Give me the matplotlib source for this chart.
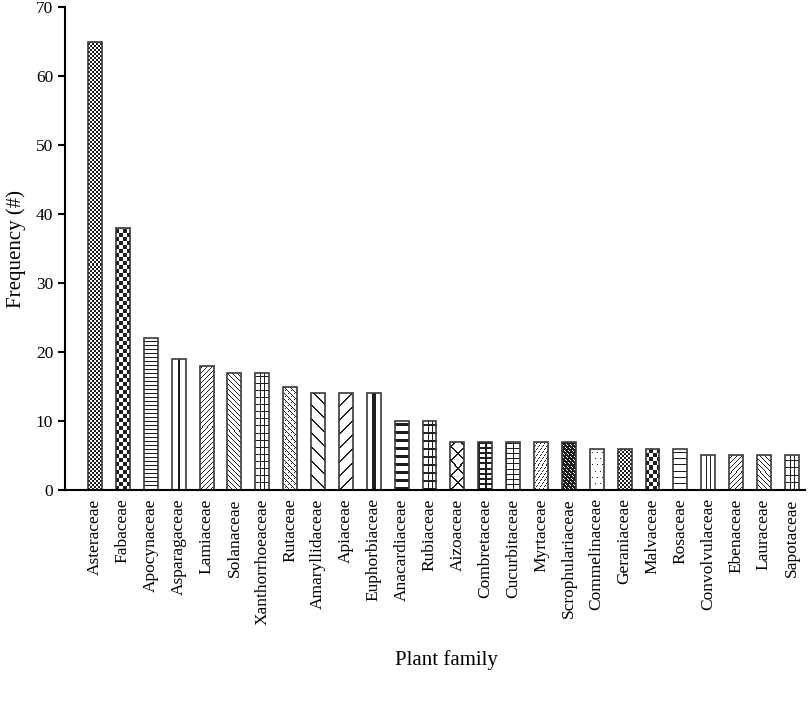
import matplotlib
matplotlib.use("Agg")
import matplotlib.pyplot as plt
import numpy as np

families = ["Asteraceae", "Fabaceae", "Apocynaceae", "Asparagaceae", "Lamiaceae",
            "Solanaceae", "Xanthorrhoeaceae", "Rutaceae", "Amaryllidaceae", "Apiaceae",
            "Euphorbiaceae", "Anacardiaceae", "Rubiaceae", "Aizoaceae", "Combretaceae",
            "Cucurbitaceae", "Myrtaceae", "Scrophulariaceae", "Commelinaceae", "Geraniaceae",
            "Malvaceae", "Rosaceae", "Convolvulaceae", "Ebenaceae", "Lauraceae", "Sapotaceae"]
frequency = [65, 38, 22, 19, 18, 17, 17, 15, 14, 14, 14, 10, 10, 7, 7, 7, 7, 7,
             6, 6, 6, 6, 5, 5, 5, 5]
patterns = ["checker_fine", "checker", "hlines_dense", "vcenter", "diag_up", "diag_down",
            "grid3", "zigzag", "diag_down_thick", "diag_up_thick", "vcenter_thick",
            "hlines_thick", "grid3_thick", "bigx", "brick_dark", "brick", "vdots",
            "dark_marks", "sparse_dots", "checker_fine", "checker", "hlines", "vthirds",
            "diag_up", "diag_down", "grid3"]


def texture(name, h, w):
    yy, xx = np.mgrid[0:h, 0:w]
    c = w / 2.0
    t1, t2 = int(round(w / 3.0)), int(round(2 * w / 3.0))
    if name == "checker_fine":
        d = ((yy // 2 + xx // 2) % 2 == 0)
    elif name == "checker":
        d = ((yy // 4 + (xx + 1) // 4) % 2 == 0)
    elif name == "hlines_dense":
        d = (yy % 4 == 0)
    elif name == "hlines":
        d = (yy % 6 == 0)
    elif name == "hlines_thick":
        d = (yy % 8 < 3)
    elif name == "vcenter":
        d = (np.abs(xx - c + 0.5) < 0.6)
    elif name == "vcenter_thick":
        d = (np.abs(xx - c + 0.5) < 1.6)
    elif name == "vthirds":
        d = (xx == t1) | (xx == t2)
    elif name == "diag_up":
        d = ((xx - yy) % 5 == 0)
    elif name == "diag_down":
        d = ((xx + yy) % 5 == 0)
    elif name == "diag_up_thick":
        d = ((xx - yy) % 14 < 2)
    elif name == "diag_down_thick":
        d = ((xx + yy) % 14 < 2)
    elif name == "grid3":
        d = (yy % 7 == 0) | (xx == t1) | (xx == t2)
    elif name == "grid3_thick":
        d = (yy % 8 < 2) | (np.abs(xx - t1) < 1) | (np.abs(xx - t2) < 1)
    elif name == "zigzag":
        d = ((xx + yy) % 6 == 0) | (((xx - yy) % 6 == 0) & (yy % 3 != 1))
    elif name == "bigx":
        d = ((xx + yy) % w < 2) | ((xx - yy) % w < 2)
    elif name in ("brick", "brick_dark"):
        row = yy // 5
        off = np.where(row % 2 == 0, 0, w // 2)
        if name == "brick":
            d = (yy % 5 == 0) | (((xx + off) % 7) == 0)
        else:
            d = (yy % 5 < 2) | (((xx + off) % 7) < 2)
    elif name == "vdots":
        d = ((yy % 3 == 0) & ((xx + (yy // 3) % 2 * 2) % 4 == 0)) | \
            ((yy % 3 == 1) & ((xx + (yy // 3) % 2 * 2) % 4 == 1))
    elif name == "dark_marks":
        d = ~(((xx + yy) % 4 == 0) & (yy % 3 != 0))
    elif name == "sparse_dots":
        d = (yy % 6 == 0) & ((xx + (yy // 6) % 2 * 2) % 5 == 2)
    else:
        d = np.zeros((h, w), bool)
    return np.where(d, 0.12, 1.0)


plt.rcParams['font.family'] = ['Liberation Serif', 'DejaVu Serif']

fig = plt.figure(figsize=(8.09, 7.02), dpi=100)
ax = fig.add_axes([0.0803, 0.302, 0.915, 0.688])

x = np.arange(len(families))
fills = ax.bar(x, frequency, width=0.5, color="white", edgecolor="none", zorder=1)

ax.set_xlim(-1.08, 25.48)
ax.set_ylim(0, 70)
ax.set_yticks(range(0, 71, 10))
ax.set_xticks(x)
ax.set_xticklabels(families, rotation=90, fontsize=12.5)
ax.tick_params(axis='x', length=0, pad=6)
ax.tick_params(axis='y', length=5, width=1.5, labelsize=12.5, direction='out')
for s in ["top", "right"]:
    ax.spines[s].set_visible(False)
for s in ["left", "bottom"]:
    ax.spines[s].set_linewidth(1.5)
    ax.spines[s].set_zorder(5)
ax.set_ylabel("Frequency (#)", fontsize=15, labelpad=7)
fig.text(0.552, 0.06, "Plant family", fontsize=15, ha="center", va="center")

fig.canvas.draw()
renderer = fig.canvas.get_renderer()
for b, p in zip(fills, patterns):
    bb = b.get_window_extent(renderer)
    w = max(1, int(round(bb.width)))
    h = max(1, int(round(bb.height)))
    img = texture(p, h, w)
    x0 = b.get_x()
    im = ax.imshow(img, cmap="gray", vmin=0, vmax=1, origin="lower",
                   extent=(x0, x0 + b.get_width(), 0, b.get_height()),
                   interpolation="nearest", aspect="auto", zorder=2)
    im.set_clip_path(b)

ax.bar(x, frequency, width=0.5, fill=False, edgecolor="#3a3a3a", linewidth=1.2, zorder=3)
ax.set_xlim(-1.08, 25.48)
ax.set_ylim(0, 70)

fig.savefig("out.png", dpi=100)
